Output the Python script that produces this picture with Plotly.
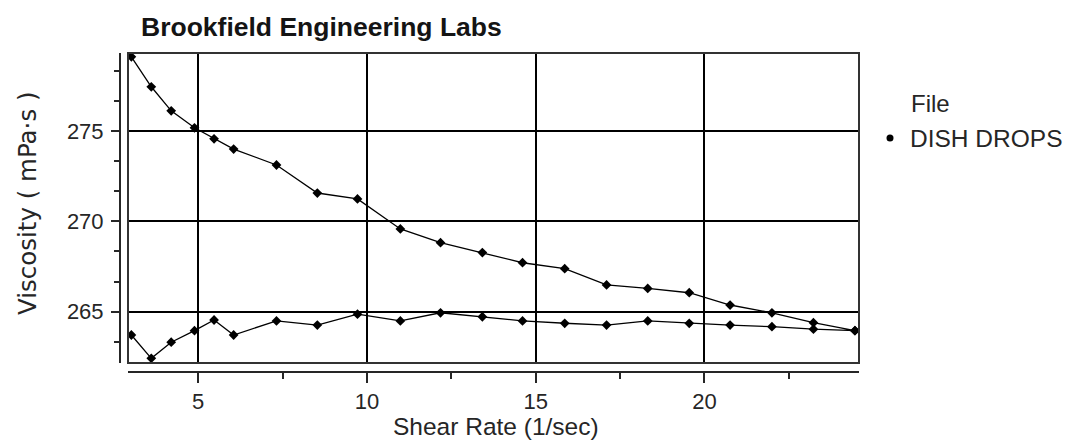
import plotly.graph_objects as go

# Shear rate (1/sec) for each reading
shear_rate = [3.02, 3.61, 4.20, 4.89, 5.47, 6.05, 7.32, 8.53, 9.72, 10.99, 12.18,
              13.42, 14.61, 15.86, 17.10, 18.32, 19.55, 20.76, 22.00, 23.23, 24.46]
# Viscosity (mPa·s), ramp with increasing speed (lower branch)
visc_up = [263.71, 262.42, 263.31, 263.95, 264.54, 263.71, 264.49, 264.26, 264.86, 264.49, 264.94,
           264.72, 264.49, 264.36, 264.26, 264.49, 264.36, 264.26, 264.17, 264.03, 263.95]
# Viscosity (mPa·s), ramp with decreasing speed (upper branch)
visc_down = [279.11, 277.45, 276.12, 275.18, 274.57, 274.00, 273.12, 271.57, 271.24, 269.58, 268.82,
             268.27, 267.71, 267.38, 266.48, 266.29, 266.05, 265.37, 264.94, 264.39, 263.95]

series_name = "DISH DROPS"
legend_title = "File"
chart_title = "Brookfield Engineering Labs"
x_title = "Shear Rate (1/sec)"
y_title = "Viscosity ( mPa·s )"

x_all = shear_rate + shear_rate[::-1]
y_all = visc_up + visc_down[::-1]

FONT = "Liberation Sans, Arial, sans-serif"
WIDE = "DejaVu Sans, Verdana, sans-serif"
TXT = "#262626"

# page body has an 8px margin: work in reference pixels, shift by OFF
OFF = 8
W, H = 1071 - OFF, 443 - OFF
PL, PR, PT, PB = 128 - OFF, 859 - OFF, 53 - OFF, 363 - OFF   # plot box
AXL, AXB = 120 - OFF, 372 - OFF                              # offset axis lines
ml, mt = AXL, PT
mr, mb = W - PR, H - AXB
pw = W - ml - mr
ph = H - mt - mb


def px(xr):
    return (xr - OFF - ml) / pw


def py(yr):
    return 1 - (yr - OFF - mt) / ph


fig = go.Figure()
fig.add_trace(go.Scatter(
    x=x_all, y=y_all, mode="lines+markers",
    line=dict(color="black", width=1.3),
    marker=dict(symbol="diamond", size=7.5, color="black"),
    showlegend=False, cliponaxis=True, hoverinfo="x+y",
))
# legend entry: dot only
fig.add_trace(go.Scatter(
    x=[None], y=[None], mode="markers", name=series_name,
    marker=dict(symbol="circle", size=7, color="black"),
    showlegend=True,
))

fig.update_layout(
    width=W, height=H,
    margin=dict(l=ml, r=mr, t=mt, b=mb, autoexpand=False),
    paper_bgcolor="white", plot_bgcolor="white",
    font=dict(family=FONT, color=TXT, size=21),
    title=dict(text="<b>" + chart_title + "</b>", x=(141 - OFF) / W, xanchor="left", xref="container",
               y=1 - (27 - OFF) / H, yanchor="middle", yref="container",
               font=dict(family=FONT, size=26.5, color="#141414")),
    showlegend=True,
    legend=dict(x=px(870), xanchor="left", y=py(138), yanchor="middle",
                font=dict(family=FONT, size=24.5, color=TXT), bgcolor="rgba(0,0,0,0)",
                itemwidth=30, tracegroupgap=0),
    xaxis=dict(
        domain=[(PL - AXL) / pw, 1], range=[2.92, 24.58], anchor="free", position=0,
        showline=True, linecolor="#262626", linewidth=2,
        ticks="outside", ticklen=10, tickwidth=1.5, tickcolor="#262626",
        tick0=0, dtick=5, showgrid=True, gridcolor="black", gridwidth=1.5, zeroline=False,
        minor=dict(dtick=2.5, ticks="outside", ticklen=6, tickwidth=1.5, tickcolor="#262626", showgrid=False),
        tickfont=dict(family=FONT, size=22, color=TXT),
        fixedrange=True,
    ),
    yaxis=dict(
        domain=[(AXB - PB) / ph, 1], range=[262.16, 279.32], anchor="free", position=0,
        showline=True, linecolor="#262626", linewidth=2,
        ticks="outside", ticklen=8, tickwidth=1.5, tickcolor="#262626",
        tick0=265, dtick=5, showgrid=True, gridcolor="black", gridwidth=1.5, zeroline=False,
        minor=dict(dtick=5 / 3, tick0=265, ticks="outside", ticklen=5, tickwidth=1.5, tickcolor="#262626", showgrid=False),
        tickfont=dict(family=FONT, size=22, color=TXT),
        ticklabelstandoff=3,
        fixedrange=True,
    ),
    shapes=[dict(type="rect", xref="x domain", yref="y domain", x0=0, x1=1, y0=0, y1=1,
                 line=dict(color="#333333", width=2), layer="above")],
    annotations=[
        dict(text=legend_title, xref="paper", yref="paper",
             x=px(909), xanchor="left", y=py(103), yanchor="middle",
             showarrow=False, font=dict(family=FONT, size=24, color=TXT)),
        dict(text=x_title, xref="paper", yref="paper",
             x=px(496), xanchor="center", y=py(427), yanchor="middle",
             showarrow=False, font=dict(family=FONT, size=24.5, color=TXT)),
        dict(text=y_title, xref="paper", yref="paper", textangle=-90,
             x=px(27), xanchor="center", y=py(203), yanchor="middle",
             showarrow=False, font=dict(family=WIDE, size=24.5, color=TXT)),
    ],
)

fig.write_html("out.html")
